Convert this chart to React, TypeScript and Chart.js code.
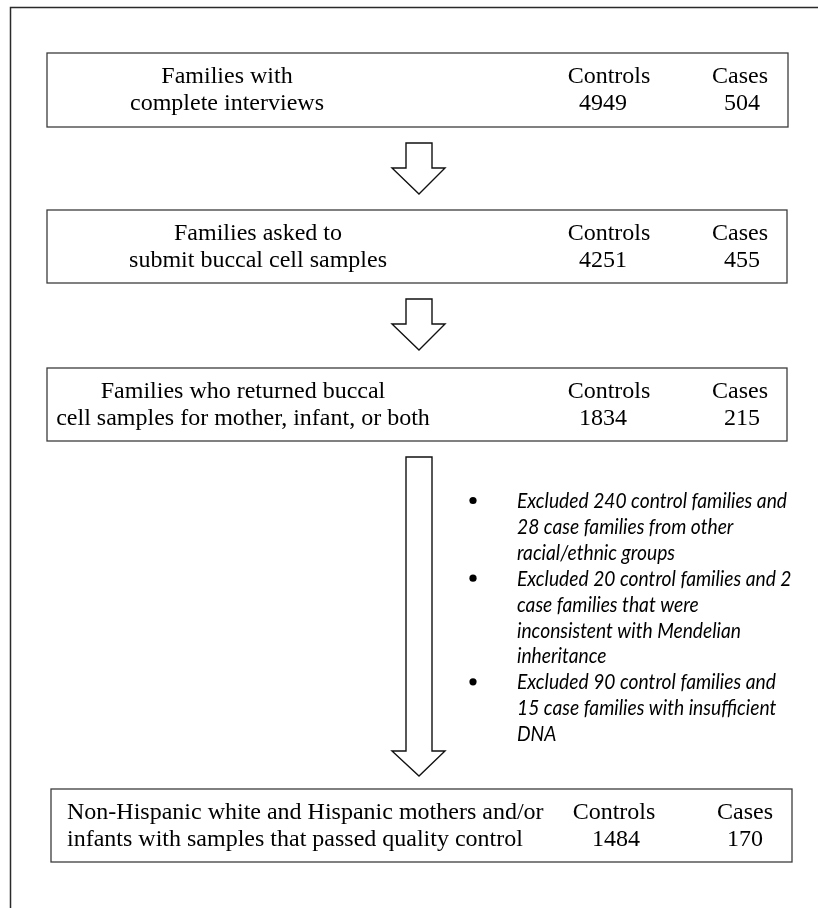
import React, { useEffect, useRef } from "react";
import { Chart, registerables } from "chart.js";

Chart.register(...registerables);

// ---- content data ----
const stageLabels: string[][] = [
  ["Families with", "complete interviews"],
  ["Families asked to", "submit buccal cell samples"],
  ["Families who returned buccal", "cell samples for mother, infant, or both"],
  ["Non-Hispanic white and Hispanic mothers and/or", "infants with samples that passed quality control"],
];
const columnHeaders = ["Controls", "Cases"];
const controlCounts = [4949, 4251, 1834, 1484];
const caseCounts = [504, 455, 215, 170];
const exclusionNotes: string[][] = [
  ["Excluded 240 control families and", "28 case families from other", "racial/ethnic groups"],
  ["Excluded 20 control families and 2", "case families that were", "inconsistent with Mendelian", "inheritance"],
  ["Excluded 90 control families and", "15 case families with insufficient", "DNA"],
];

// ---- layout (chart-space units, 1 unit = 1 px) ----
const W = 818;
const H = 908;
const boxLeft = [47, 47, 47, 51];
const boxRight = [788, 787, 787, 792];
const boxTop = [53, 210, 368, 789];
const boxBottom = [127, 283, 441, 862];
const labelCenterX = [227, 258, 243, -1];
const labelLeftX = 67;
const headerX = [609, 609, 609, 614];
const numberX = [603, 603, 603, 616];
const caseHeaderX = [740, 740, 740, 745];
const caseNumberX = [742, 742, 742, 745];
const lineOffsets = [30, 57];
const arrows = [
  { top: 143, head: 168, tip: 194 },
  { top: 299, head: 324, tip: 350 },
  { top: 457, head: 751, tip: 776 },
];
const stemL = 406, stemR = 432, headL = 392, headR = 445, tipX = 419;
const bulletX = 473, noteX = 517, noteFirstBaseline = 508, noteStep = 25.9;
const noteRefWidth = 270;

const SERIF = '24px "Liberation Serif", "Times New Roman", serif';
const ITALIC = 'italic 20.5px Lato, "Open Sans", sans-serif';

const flowPlugin = {
  id: "flowchart",
  afterDraw(chart: any) {
    const ctx: CanvasRenderingContext2D = chart.ctx;
    const xs = chart.scales.x;
    const ys = chart.scales.y;
    const px = (v: number) => xs.getPixelForValue(v);
    const py = (v: number) => ys.getPixelForValue(v);
    ctx.save();

    // outer frame (top & left edges visible)
    ctx.strokeStyle = "#2a2a2a";
    ctx.lineWidth = 1.5;
    ctx.beginPath();
    ctx.moveTo(px(818), py(7.5));
    ctx.lineTo(px(10.5), py(7.5));
    ctx.lineTo(px(10.5), py(908));
    ctx.stroke();

    // boxes
    for (let i = 0; i < stageLabels.length; i++) {
      ctx.strokeStyle = "#3c3c3c";
      ctx.lineWidth = 1.3;
      ctx.strokeRect(px(boxLeft[i]), py(boxTop[i]), px(boxRight[i]) - px(boxLeft[i]), py(boxBottom[i]) - py(boxTop[i]));

      ctx.fillStyle = "#000";
      ctx.font = SERIF;
      ctx.textBaseline = "alphabetic";
      stageLabels[i].forEach((t, j) => {
        const y = py(boxTop[i] + lineOffsets[j]);
        if (labelCenterX[i] < 0) {
          ctx.textAlign = "left";
          ctx.fillText(t, px(labelLeftX), y);
        } else {
          ctx.textAlign = "center";
          ctx.fillText(t, px(labelCenterX[i]), y);
        }
      });
      ctx.textAlign = "center";
      ctx.fillText(columnHeaders[0], px(headerX[i]), py(boxTop[i] + lineOffsets[0]));
      ctx.fillText(String(controlCounts[i]), px(numberX[i]), py(boxTop[i] + lineOffsets[1]));
      ctx.fillText(columnHeaders[1], px(caseHeaderX[i]), py(boxTop[i] + lineOffsets[0]));
      ctx.fillText(String(caseCounts[i]), px(caseNumberX[i]), py(boxTop[i] + lineOffsets[1]));
    }

    // arrows
    ctx.strokeStyle = "#111";
    ctx.fillStyle = "#fff";
    ctx.lineWidth = 1.4;
    ctx.lineJoin = "miter";
    arrows.forEach((a) => {
      ctx.beginPath();
      ctx.moveTo(px(stemL), py(a.top));
      ctx.lineTo(px(stemR), py(a.top));
      ctx.lineTo(px(stemR), py(a.head));
      ctx.lineTo(px(headR), py(a.head));
      ctx.lineTo(px(tipX), py(a.tip));
      ctx.lineTo(px(headL), py(a.head));
      ctx.lineTo(px(stemL), py(a.head));
      ctx.closePath();
      ctx.fill();
      ctx.stroke();
    });

    // exclusion notes
    ctx.font = ITALIC;
    ctx.textAlign = "left";
    ctx.textBaseline = "alphabetic";
    const measured = ctx.measureText(exclusionNotes[0][0]).width;
    const sx = measured > 0 ? noteRefWidth / measured : 1;
    let line = 0;
    exclusionNotes.forEach((item) => {
      const by = noteFirstBaseline + line * noteStep;
      ctx.fillStyle = "#000";
      ctx.beginPath();
      ctx.arc(px(bulletX), py(by - 7.5), 3.6, 0, Math.PI * 2);
      ctx.fill();
      item.forEach((t) => {
        const y = py(noteFirstBaseline + line * noteStep);
        ctx.save();
        ctx.translate(px(noteX), y);
        ctx.scale(sx, 1);
        ctx.fillText(t, 0, 0);
        ctx.restore();
        line++;
      });
    });

    ctx.restore();
  },
};

export default function App() {
  const ref = useRef<HTMLCanvasElement | null>(null);
  useEffect(() => {
    if (!ref.current) return;
    const chart = new Chart(ref.current, {
      type: "scatter",
      data: { datasets: [{ data: [], pointRadius: 0 }] },
      options: {
        animation: false,
        responsive: true,
        maintainAspectRatio: false,
        layout: { padding: 0 },
        plugins: { legend: { display: false }, tooltip: { enabled: false } },
        scales: {
          x: { type: "linear", min: 0, max: W, display: false },
          y: { type: "linear", min: 0, max: H, reverse: true, display: false },
        },
      },
      plugins: [flowPlugin],
    });
    const fonts = (document as any).fonts;
    if (fonts && fonts.load) {
      Promise.all([fonts.load(SERIF), fonts.load(ITALIC)])
        .then(() => chart.draw())
        .catch(() => {});
    }
    return () => chart.destroy();
  }, []);
  return (
    <div style={{ position: "absolute", left: 0, top: 0, width: W, height: H, background: "#fff" }}>
      <canvas ref={ref} />
    </div>
  );
}
